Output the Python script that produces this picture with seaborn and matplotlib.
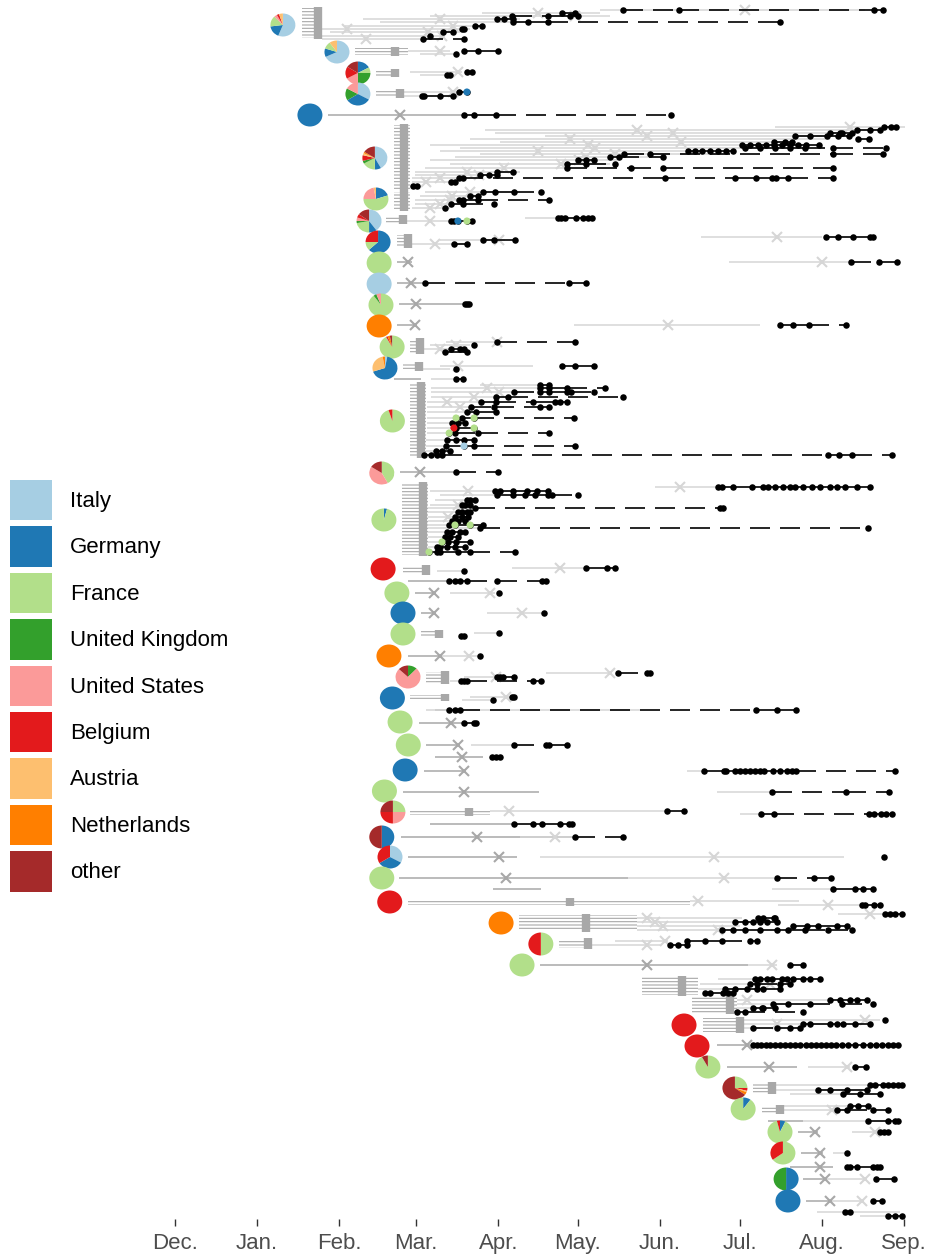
import matplotlib
matplotlib.use("Agg")
import matplotlib.pyplot as plt
from matplotlib.patches import Rectangle, Patch
from matplotlib.collections import LineCollection
import seaborn as sns
import numpy as np
import pandas as pd

sns.set_theme(style="white")
plt.rcParams['font.family'] = ['Liberation Sans', 'DejaVu Sans']
plt.rcParams['hatch.linewidth'] = 0.8

countries = ['Italy', 'Germany', 'France', 'United Kingdom', 'United States',
             'Belgium', 'Austria', 'Netherlands', 'other']
colors = sns.color_palette('Paired', 8).as_hex() + ['#a52a2a']
country_color = dict(zip(countries, colors))

# x = days since 1 Dec 2019, y = lineage row (top to bottom)
origin = pd.Timestamp('2019-12-01')

# introductions: pie of the source countries
pie_day = [40.7, 61.1, 69.0, 69.0, 50.9, 75.4, 75.8, 73.2, 76.6, 77.0, 77.0, 77.7,
           77.0, 81.9, 79.2, 82.0, 78.0, 78.8, 78.5, 83.7, 86.0, 86.0, 80.7, 87.9,
           82.0, 84.9, 88.0, 86.8, 79.0, 82.2, 78.0, 81.1, 78.0, 81.0, 123.0, 138.0,
           130.9, 192.0, 196.9, 201.0, 211.2, 214.3, 228.2, 229.3, 230.5, 231.2]
pie_row = [25, 52, 73, 94, 115, 158, 199, 221, 242, 263, 284, 305,
           326, 347, 368, 421, 473, 520, 569, 593, 613, 634, 656, 677,
           698, 722, 745, 770, 791, 812, 837, 857, 878, 902, 923, 944,
           965, 1025, 1046, 1067, 1088, 1109, 1132, 1153, 1179, 1201]
# shares in the order of `countries`
pie_mix = [
    [56, 17, 15, 0, 4, 3, 5, 0, 0],
    [68, 12, 10, 0, 0, 0, 10, 0, 0],
    [0, 17, 8, 25, 17, 17, 0, 0, 16],
    [33, 33, 0, 17, 17, 0, 0, 0, 0],
    [0, 100, 0, 0, 0, 0, 0, 0, 0],
    [42, 8, 17, 4, 0, 8, 3, 2, 16],
    [0, 20, 55, 0, 22, 0, 3, 0, 0],
    [40, 10, 22, 3, 5, 5, 0, 0, 15],
    [0, 63, 12, 0, 0, 25, 0, 0, 0],
    [0, 0, 100, 0, 0, 0, 0, 0, 0],
    [100, 0, 0, 0, 0, 0, 0, 0, 0],
    [0, 0, 90, 4, 6, 0, 0, 0, 0],
    [0, 0, 0, 0, 0, 0, 0, 100, 0],
    [0, 0, 92, 0, 0, 2, 0, 3, 3],
    [3, 67, 0, 0, 0, 0, 27, 3, 0],
    [0, 0, 95, 0, 0, 5, 0, 0, 0],
    [0, 0, 42, 0, 42, 0, 0, 0, 16],
    [0, 4, 96, 0, 0, 0, 0, 0, 0],
    [0, 0, 0, 0, 0, 100, 0, 0, 0],
    [0, 0, 100, 0, 0, 0, 0, 0, 0],
    [0, 100, 0, 0, 0, 0, 0, 0, 0],
    [0, 0, 100, 0, 0, 0, 0, 0, 0],
    [0, 0, 0, 0, 0, 0, 0, 100, 0],
    [0, 0, 0, 12, 75, 0, 0, 0, 13],
    [0, 100, 0, 0, 0, 0, 0, 0, 0],
    [0, 0, 100, 0, 0, 0, 0, 0, 0],
    [0, 0, 100, 0, 0, 0, 0, 0, 0],
    [0, 100, 0, 0, 0, 0, 0, 0, 0],
    [0, 0, 100, 0, 0, 0, 0, 0, 0],
    [0, 0, 25, 0, 25, 25, 0, 0, 25],
    [0, 50, 0, 0, 0, 0, 0, 0, 50],
    [33, 33, 0, 0, 0, 34, 0, 0, 0],
    [0, 0, 100, 0, 0, 0, 0, 0, 0],
    [0, 0, 0, 0, 0, 100, 0, 0, 0],
    [0, 0, 0, 0, 0, 0, 0, 100, 0],
    [0, 0, 50, 0, 0, 50, 0, 0, 0],
    [0, 0, 100, 0, 0, 0, 0, 0, 0],
    [0, 0, 0, 0, 0, 100, 0, 0, 0],
    [0, 0, 0, 0, 0, 100, 0, 0, 0],
    [0, 0, 92, 0, 0, 0, 0, 0, 8],
    [0, 0, 25, 0, 0, 4, 2, 4, 65],
    [0, 10, 90, 0, 0, 0, 0, 0, 0],
    [0, 7, 89, 0, 0, 4, 0, 0, 0],
    [0, 0, 65, 0, 0, 35, 0, 0, 0],
    [0, 50, 0, 50, 0, 0, 0, 0, 0],
    [0, 100, 0, 0, 0, 0, 0, 0, 0],
]

# stacked uncertainty blocks: (start, end, top row, bottom row, tmrca)
blocks = [
    (47.9, 55.4, 8, 38, 53.9), (67.9, 87.9, 48, 55, 83.0), (75.8, 83.7, 70, 76, 83.0),
    (75.8, 84.1, 90, 97, 84.9), (82.6, 88.6, 125, 190, 86.4), (82.6, 88.6, 192, 210, 86.4),
    (79.6, 86.8, 216, 223, 86.0), (83.7, 89.0, 235, 247, 87.9), (88.6, 93.2, 339, 353, 92.4),
    (86.0, 93.2, 363, 370, 92.0), (88.6, 94.7, 383, 457, 92.8), (85.6, 95.4, 483, 555, 93.5),
    (86.0, 96.2, 566, 574, 94.7), (92.8, 100.0, 631, 637, 99.6), (94.7, 103.0, 672, 683, 101.8),
    (88.6, 103.0, 695, 700, 101.8), (88.6, 118.8, 809, 815, 110.9), (87.9, 194.3, 899, 905, 149.0),
    (129.8, 174.3, 915, 931, 155.0), (144.8, 157.3, 939, 948, 155.8), (176.2, 197.3, 977, 995, 191.2),
    (195.0, 212.0, 997, 1013, 209.4), (199.2, 214.3, 1018, 1032, 213.1), (218.0, 226.3, 1083, 1093, 225.2),
    (221.4, 229.3, 1106, 1113, 228.2),
]

# lineages: (row, dark grey (start, mark, end), light grey (start, mark, end), sampled days)
lineages = [
    (10, None, (160.3, 215.0, 260.3), [169.0, 190.1, 263.7, 267.1]),
    (13, None, (115.8, 136.9, 160.3), [146.0, 150.9]),
    (16, None, (96.2, 150.9, 164.1), [127.1, 140.7, 149.0, 152.0]),
    (19, None, (70.9, 100.0, 130.1), [121.5, 124.1, 127.5]),
    (22, None, (77.3, None, 130.1), [127.5, 133.2, 140.7, 228.2]),
    (26, None, (64.1, 104.9, 115.0), [113.2, 115.8]),
    (29, None, (54.7, 64.9, 111.3), [108.3, 109.0]),
    (32, None, (58.5, 95.4, 107.5), [101.1, 104.9]),
    (36, None, (55.4, 100.7, 101.8), [96.2]),
    (39, None, (55.4, 72.0, 92.4), [93.5, 109.0]),
    (51, None, (87.9, 100.0, 103.7), [109.0, 114.3, 121.8]),
    (54, None, (92.4, None, 105.6), [106.0]),
    (72, None, (88.6, 106.7, 108.3), [110.1, 112.0]),
    (75, None, (92.4, None, 102.6), [102.6, 103.7]),
    (92, None, (84.9, 104.9, 107.5), [107.1, 110.1]),
    (96, None, (84.9, None, 93.2), [93.2, 93.9, 100.0, 104.9]),
    (115, (57.7, 84.9, 109.4), None, [109.0, 112.8, 121.1, 187.1]),
    (127, None, (226.3, 254.6, 275.4), [267.4, 270.1, 272.0]),
    (130, None, (116.9, 174.3, 265.9), [257.3, 262.2, 265.9]),
    (133, None, (120.7, 187.8, 252.7), [247.1, 250.8, 251.6, 255.4]),
    (136, None, (139.6, 178.0, 249.0), [233.9, 239.5, 245.9, 250.1, 254.2]),
    (139, None, (111.3, 149.0, 247.1), [257.6, 261.8]),
    (142, None, (122.6, 190.9, 228.2), [225.9, 230.1, 232.7]),
    (145, None, (96.2, 155.8, 232.0), [213.9, 216.9, 219.9, 222.9, 225.9, 229.0, 232.0, 235.0, 238.0, 242.9]),
    (148, None, (107.5, 158.4, 235.8), [215.0, 220.7, 226.3, 232.0, 237.6, 248.2, 268.2]),
    (151, None, (100.0, 136.9, 198.0), [193.5, 196.1, 198.8, 201.8, 204.8, 207.8, 210.5]),
    (154, None, (115.0, 166.0, 205.6), [169.4, 179.2, 248.2, 267.1]),
    (157, None, (105.6, 155.0, 179.2), [164.1, 167.5, 184.1]),
    (160, None, (96.2, 152.4, 167.9), [152.0, 155.0, 158.1]),
    (164, None, (103.7, 145.6, 164.1), [147.9, 155.0, 166.0]),
    (168, None, (94.3, 124.1, 149.0), [147.9, 172.0, 184.1, 248.2]),
    (172, None, (90.5, 110.1, 130.1), [121.5, 127.5]),
    (175, None, (90.5, 114.7, 122.6), [115.0, 118.4, 121.5]),
    (178, None, (89.4, 100.0, 107.5), [107.1, 108.6, 184.8, 211.2, 219.2, 225.2, 226.7, 231.2, 248.2]),
    (182, None, (89.4, 94.7, 103.7), [104.1, 105.6]),
    (186, None, None, [89.8, 91.3]),
    (192, None, (94.3, 111.3, 130.1), [116.2, 120.7, 127.9, 138.1]),
    (196, None, (92.4, 104.5, 115.1), [111.3, 114.3]),
    (200, None, (90.5, 103.7, 120.7), [107.1, 108.6, 114.3, 141.1]),
    (204, None, (90.5, 100.0, 111.3), [104.1, 108.6, 120.3]),
    (208, None, (89.4, 96.2, 103.7), [101.8]),
    (218, None, (132.0, None, 144.5), [144.5, 145.6, 147.1, 151.3, 153.9, 155.8, 157.3]),
    (221, None, (86.8, 96.2, 103.7), [104.1, 105.2, 106.7, 110.1, 112.0]),
    (237, None, (198.4, 227.1, 244.0), [245.6, 250.1, 255.7, 262.2, 263.3]),
    (240, None, (100.0, 122.2, 124.5), [116.2, 120.3, 128.2]),
    (244, None, (89.4, 98.1, 107.5), [105.2, 110.1]),
    (262, (83.7, 87.9, 89.4), (209.0, 244.0, 255.0), [255.0, 265.6, 272.3]),
    (283, (83.7, 89.0, 93.9), None, [94.3, 148.6, 155.0]),
    (304, (84.5, 90.9, 109.8), None, [109.4, 110.1, 110.9]),
    (325, (83.7, 90.5, 90.9), (150.5, 186.0, 220.7), [228.2, 233.1, 239.1, 253.1]),
    (342, None, (102.2, 121.5, 122.6), [121.5, 150.9]),
    (345, None, (96.2, 106.0, 111.3), [112.8]),
    (349, None, (93.2, 100.0, 103.7), [104.1, 107.5, 109.0]),
    (352, None, None, [101.8, 110.1]),
    (366, None, (100.0, 106.7, 135.0), [146.0, 150.9, 158.1]),
    (369, None, (93.2, None, 103.7), [106.0]),
    (379, (82.6, None, 92.8), (96.6, None, 109.0), [106.0, 108.6]),
    (385, None, (115.0, None, 137.3), [137.7, 141.1]),
    (388, None, (96.6, 117.7, 137.7), [137.7, 141.1, 147.9, 162.2]),
    (392, None, (96.6, 122.2, 130.1), [127.9, 137.7, 141.1, 147.9, 149.4, 158.1]),
    (397, None, (96.6, 112.8, 122.6), [121.1, 125.6, 169.0]),
    (402, None, (95.1, 102.6, 115.0), [115.4, 121.1, 135.0, 143.3, 145.2, 147.9]),
    (407, None, (95.1, 107.5, 111.3), [111.7, 120.3, 137.7, 141.1]),
    (412, None, (95.1, None, 109.4), [110.1, 113.5, 121.1]),
    (418, None, (95.1, None, 106.0), [106.0, 108.3, 112.8, 150.5]),
    (423, None, (95.1, None, 104.5), [104.5, 106.7, 109.4]),
    (428, None, (95.1, None, 105.2), [105.2, 106.0, 112.8]),
    (433, None, (95.1, None, 103.4), [103.4, 105.6, 114.3, 141.1]),
    (440, None, (94.7, None, 102.6), [102.6, 106.0, 109.0, 112.8]),
    (446, None, (94.7, None, 102.2), [102.2, 109.0, 112.8, 150.9]),
    (451, None, (94.7, None, 98.5), [98.5, 100.7, 103.7]),
    (455, None, None, [93.9, 96.6, 98.8, 100.7, 246.3, 250.5, 255.4, 270.5]),
    (472, (84.9, 92.4, 106.4), None, [106.0, 121.8]),
    (487, None, (181.1, 190.5, 205.6), [204.8, 206.3, 210.5, 217.6, 221.8, 223.7, 226.3, 229.3, 232.0,
                                        233.9, 236.9, 240.3, 243.3, 247.1, 249.7, 252.7, 257.3, 262.2]),
    (491, None, (96.2, 110.5, 130.1), [120.7, 122.6, 127.5, 132.8, 136.5, 140.7]),
    (495, None, (100.0, None, 120.7), [121.5, 127.5, 132.0, 135.8, 140.7, 142.2, 152.0]),
    (500, None, (98.1, None, 109.4), [110.1, 111.3, 113.2]),
    (505, None, (96.2, 106.7, 109.4), [108.3, 109.4, 111.3]),
    (508, None, (95.4, None, 113.2), [113.2, 205.6, 206.7]),
    (512, None, (95.4, None, 106.7), [106.7, 108.3, 110.1, 111.3]),
    (517, None, (95.4, 103.0, 105.6), [105.6, 108.3, 110.5]),
    (521, None, (95.4, None, 104.5), [104.5, 106.7, 109.4]),
    (525, None, (95.4, None, 103.4), [103.4, 105.6, 111.3, 116.2]),
    (528, None, (95.4, None, 115.0), [115.0, 261.4]),
    (532, None, (95.4, None, 102.6), [102.6, 104.5, 107.5, 109.4]),
    (537, None, (95.4, None, 101.8), [101.8, 103.7, 106.7]),
    (542, None, (95.4, None, 100.7), [100.7, 103.0, 106.0, 111.3]),
    (547, None, (95.4, None, 98.8), [98.8, 100.0, 102.6, 105.6, 109.4]),
    (552, None, None, [95.8, 98.8, 100.0, 106.7, 111.3, 128.2]),
    (568, None, (127.1, 145.2, 154.7), [155.0, 163.0, 166.0]),
    (571, None, (98.8, None, 109.0), [109.0]),
    (581, (87.9, None, 103.4), None, [103.4, 105.6, 107.5, 110.1, 121.5, 138.4, 139.9]),
    (593, (90.5, 97.7, 98.1), (103.7, 118.8, 120.7), [122.2]),
    (613, (92.8, 97.7, 98.1), (117.7, 130.9, 139.2), [139.2]),
    (633, None, (112.8, None, 122.2), [122.2]),
    (636, None, None, [107.9, 109.0]),
    (656, (87.9, 100.0, 100.0), (100.0, 110.9, 114.3), [115.0]),
    (673, None, (139.9, 164.1, 164.8), [167.1, 178.0, 179.2]),
    (677, None, (109.0, 121.1, 122.6), [121.5, 122.6, 123.7, 127.9]),
    (681, None, (103.7, None, 107.9), [107.9, 109.0, 110.1, 135.0, 138.1]),
    (697, None, (111.3, 124.9, 127.9), [127.1, 127.9]),
    (700, None, (108.3, None, 118.8), [120.0]),
    (710, (98.1, None, 103.0), (94.7, None, 175.4), [103.4, 105.6, 107.5, 219.2, 227.1, 234.2]),
    (723, (92.0, 104.1, 109.0), None, [109.0, 112.8, 113.5]),
    (745, (94.7, 106.7, 107.5), (111.7, None, 127.9), [127.9, 139.9, 141.1, 147.9]),
    (757, (98.1, 108.3, 116.2), None, [119.6, 121.1, 122.6]),
    (771, (93.9, 109.0, 109.0), (193.1, None, 199.5), [199.5, 207.1, 207.8, 211.2, 213.1, 215.0, 216.9,
                                                        218.8, 220.7, 222.2, 225.6, 228.2, 230.9, 232.7,
                                                        234.2, 271.6]),
    (792, (86.0, 109.0, 137.3), (204.4, None, 225.2), [225.2, 253.1, 269.3]),
    (811, None, (118.8, 126.0, 185.6), [185.6, 192.0]),
    (814, None, (213.1, None, 221.0), [221.0, 225.9, 261.8, 263.7, 266.3, 268.2, 270.5]),
    (824, (96.2, None, 127.9), None, [127.9, 135.0, 138.4, 145.2, 148.6, 149.8]),
    (837, (85.2, 113.9, 150.5), (130.1, 143.3, 150.5), [150.9, 169.0]),
    (857, (87.9, 122.2, 129.0), (137.7, 203.3, 252.4), [267.4]),
    (878, (84.5, 124.9, 170.9), (170.9, 207.1, 225.9), [227.1, 241.0, 247.5]),
    (889, (120.0, None, 138.1), (225.2, None, 249.0), [248.2, 256.5, 259.5, 263.3]),
    (901, None, (194.3, 197.3, 235.4), []),
    (905, None, (227.5, 246.3, 258.4), [259.1, 260.3, 263.7, 265.9]),
    (914, None, (250.1, 262.2, 267.8), [267.8, 269.7, 271.6, 274.2]),
    (918, None, (174.3, 178.0, 213.9), [219.9, 221.8, 225.9, 226.3]),
    (922, None, (174.3, 181.1, 220.7), [211.2, 215.0, 218.0, 220.7, 223.3, 227.1]),
    (926, None, (174.3, 184.1, 213.1), [233.1, 238.4, 242.5, 249.7, 253.5]),
    (930, None, (174.3, 204.8, 205.6), [206.3, 210.5, 215.0, 220.7, 227.1, 231.2, 237.6, 246.3, 255.4]),
    (941, None, (166.0, 184.8, 186.0), [193.1, 199.9, 206.3, 216.9, 219.5]),
    (945, None, (157.3, 178.0, 182.9), [186.7, 189.7, 193.1]),
    (965, (137.7, 178.0, 216.1), (216.1, 225.2, 227.1), [232.0, 236.9]),
    (979, None, (204.8, None, 243.3), [218.8, 220.7, 223.3, 225.2, 229.0, 230.9, 233.1, 236.9, 239.5, 243.3]),
    (984, None, (198.0, 224.4, 232.0), [216.9, 219.5, 228.2, 232.0]),
    (989, None, (197.3, None, 220.7), [207.5, 211.2, 215.8, 219.5, 221.8, 228.2]),
    (993, None, None, [199.9, 201.8, 206.7, 208.6, 210.5]),
    (1000, None, (212.0, 215.8, 247.1), [247.1, 250.8, 254.6, 257.3, 261.0]),
    (1004, None, (212.0, None, 224.4), [225.6, 231.2, 239.5, 251.6, 263.3]),
    (1008, None, (212.0, None, 218.0), [218.0, 221.4, 221.8, 226.3]),
    (1012, None, None, [212.0, 215.0, 236.9]),
    (1020, None, (214.3, 260.3, 265.9), [267.8]),
    (1024, None, (214.3, 227.1, 243.3), [236.9, 239.5, 247.1, 249.7, 252.0, 256.5, 262.2]),
    (1028, None, (214.3, None, 220.7), [218.0, 227.1, 232.0, 235.8]),
    (1045, (204.4, 215.8, 216.9), None, [218.0, 219.5, 221.0, 222.9, 224.4, 226.3, 228.2, 230.1, 232.0,
                                         233.9, 235.8, 238.0, 239.9, 241.8, 243.7, 245.6, 247.4, 249.3,
                                         251.6, 253.9, 256.5, 259.5, 262.2, 264.4, 266.7, 268.9, 270.8, 272.7]),
    (1067, (208.2, 224.1, 234.6), (238.8, 253.5, 254.6), [256.5, 260.6]),
    (1085, None, (226.3, None, 262.2), [262.2, 264.0, 267.1, 268.9, 270.8, 272.7, 274.2]),
    (1090, None, (226.3, None, 242.5), [242.5, 247.1, 253.5, 261.0]),
    (1094, None, (232.0, None, 252.0), [252.0, 258.4, 265.9]),
    (1106, None, (229.3, None, 254.6), [254.6, 257.6, 261.4]),
    (1110, None, (229.3, 247.8, 249.0), [249.7, 253.5, 263.3, 268.9]),
    (1121, (223.7, None, 236.9), (236.9, None, 262.2), [261.4, 268.9, 271.6, 272.7]),
    (1132, (235.0, 241.4, 242.5), (255.4, 264.0, 265.9), [265.9, 267.4, 268.9]),
    (1153, (236.1, 243.3, 244.4), (248.2, None, 253.5), [253.5]),
    (1167, (232.0, 243.3, 248.2), None, [253.5, 254.6, 257.3, 263.3, 264.8, 265.9]),
    (1179, (236.9, 245.2, 245.2), (245.2, 260.3, 260.3), [264.4, 271.2]),
    (1201, (238.0, 247.1, 247.1), (247.1, 259.1, 259.1), [263.3, 266.7]),
    (1212, None, (242.2, None, 273.5), [252.7, 254.6]),
    (1216, None, (258.4, None, 269.7), [268.9, 271.6, 274.2]),
]

# samples coloured by travel history
hl_day = [110.1, 106.7, 110.1, 106.0, 112.8, 105.2, 112.8, 103.4, 109.0, 105.6, 111.3, 100.7, 95.8]
hl_row = [92, 221, 221, 418, 418, 428, 428, 433, 446, 525, 525, 542, 552]
hl_country = ['Germany', 'Germany', 'France', 'France', 'France', 'Belgium', 'France',
              'France', 'Italy', 'France', 'France', 'France', 'France']

DARK, LIGHT = '#a8a8a8', '#d6d6d6'

fig = plt.figure(figsize=(9.29, 12.6), dpi=100)
ax = fig.add_axes([0, 41 / 1260, 1, 1219 / 1260])

# uncertainty blocks
for start, end, top, bottom, mark in blocks:
    ax.add_patch(Rectangle((start, top), end - start, bottom - top, facecolor='none',
                           edgecolor=DARK, hatch='-----', lw=0, zorder=1))
    ax.vlines(mark, top - 1, bottom + 1, color=DARK, lw=6, zorder=2)

# grey spans, tmrca crosses, black sampling lines
segs = []
dots = []
for row, dark, light, days in lineages:
    for span, col in ((dark, DARK), (light, LIGHT)):
        if span is None:
            continue
        start, mark, end = span
        ax.hlines(row, start, end, color=col, lw=1.1, zorder=1)
        if mark is not None:
            ax.plot(mark, row, marker='x', color=col, ms=7, mew=1.5, zorder=2)
    for a, b in zip(days[:-1], days[1:]):
        segs.append([(a, row), (b, row)])
    dots += [(d, row) for d in days]

ax.add_collection(LineCollection(segs, colors='black', linewidths=1.2,
                                 linestyles=[(0, (12, 6))], zorder=3))

dots_df = pd.DataFrame(dots, columns=['day', 'row'])
sns.scatterplot(data=dots_df, x='day', y='row', color='black', s=22, linewidth=0, ax=ax, zorder=4)
hl_df = pd.DataFrame({'day': hl_day, 'row': hl_row, 'country': hl_country})
sns.scatterplot(data=hl_df, x='day', y='row', hue='country', palette=country_color,
                s=26, linewidth=0, legend=False, ax=ax, zorder=5)

ax.set_xlim(-66.0, 284.4)
ax.set_ylim(1219, 0)
ax.set_xlabel('')
ax.set_ylabel('')
ax.set_yticks([])
for s in ax.spines.values():
    s.set_visible(False)

month_starts = pd.date_range('2019-12-01', '2020-09-01', freq='MS')
ax.set_xticks((month_starts - origin).days)
ax.set_xticklabels([m.strftime('%b.') for m in month_starts], fontsize=16, color='#4d4d4d')
ax.tick_params(axis='x', bottom=True, length=5, width=1, color='#333333', pad=5)

# pies
to_fig = fig.transFigure.inverted()
pw, ph = 25 / 929, 23 / 1260
for day, row, mix in zip(pie_day, pie_row, pie_mix):
    cx, cy = to_fig.transform(ax.transData.transform((day, row)))
    pax = fig.add_axes([cx - pw / 2, cy - ph / 2, pw, ph])
    vals = [v for v in mix if v > 0]
    cols = [c for v, c in zip(mix, colors) if v > 0]
    pax.pie(vals, colors=cols, startangle=90, counterclock=False, wedgeprops=dict(linewidth=0))
    pax.set_aspect('auto')
    pax.set_xlim(-1, 1)
    pax.set_ylim(-1, 1)
    pax.axis('off')

handles = [Patch(facecolor=c, edgecolor='none', label=n) for n, c in zip(countries, colors)]
fig.legend(handles=handles, loc='upper left', bbox_to_anchor=(10 / 929, 1 - 480 / 1260),
           frameon=False, fontsize=16, handlelength=1.9, handleheight=2.42, labelspacing=0.27,
           handletextpad=0.8, borderpad=0, borderaxespad=0, labelcolor='black')

plt.savefig('out.png', dpi=100)
